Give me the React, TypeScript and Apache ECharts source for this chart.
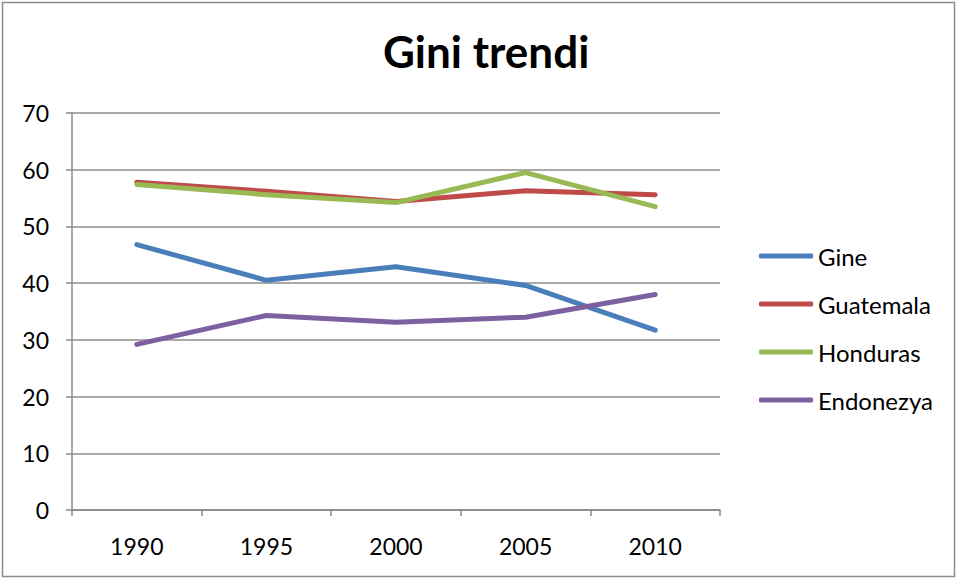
import React, { useEffect, useRef } from "react";
import * as echarts from "echarts";

const years = ["1990", "1995", "2000", "2005", "2010"];
const gine = [46.8, 40.5, 42.9, 39.6, 31.7];
const guatemala = [57.8, 56.2, 54.4, 56.3, 55.6];
const honduras = [57.4, 55.6, 54.2, 59.5, 53.5];
const endonezya = [29.2, 34.3, 33.1, 34.0, 38.0];
const seriesNames = ["Gine", "Guatemala", "Honduras", "Endonezya"];
const seriesColors = ["#4a7ebb", "#be4b48", "#98b954", "#7d60a0"];

const FONT = "Lato, 'Open Sans', sans-serif";

export default function App() {
  const ref = useRef<HTMLDivElement>(null);
  useEffect(() => {
    document.body.style.margin = "0";
    const chart = echarts.init(ref.current!, null, { renderer: "svg" });
    const data = [gine, guatemala, honduras, endonezya];
    chart.setOption({
      animation: false,
      backgroundColor: "#ffffff",
      textStyle: { fontFamily: FONT },
      title: {
        text: "Gini trendi",
        left: 378,
        top: 24,
        textStyle: { fontFamily: FONT, fontSize: 44, fontWeight: "bold", color: "#000" },
      },
      graphic: [
        {
          type: "rect",
          shape: { x: 2.5, y: 2.5, width: 952, height: 574 },
          style: { fill: "none", stroke: "#8c8c8c", lineWidth: 1.5 },
          silent: true,
        },
      ],
      legend: {
        orient: "vertical",
        left: 754,
        top: 237,
        itemWidth: 54,
        itemHeight: 5,
        itemGap: 20,
        icon: "roundRect",
        data: seriesNames,
        textStyle: { fontFamily: FONT, fontSize: 24, color: "#000", lineHeight: 28 },
      },
      grid: { left: 72, right: 239, top: 113, bottom: 70 },
      xAxis: {
        type: "category",
        data: years,
        boundaryGap: true,
        axisLine: { lineStyle: { color: "#888", width: 1.5 } },
        axisTick: { show: true, length: 6, inside: false, lineStyle: { color: "#888", width: 1.5 } },
        axisLabel: { fontFamily: FONT, fontSize: 23, color: "#000", margin: 24 },
      },
      yAxis: {
        type: "value",
        min: 0,
        max: 70,
        interval: 10,
        axisLine: { show: true, lineStyle: { color: "#888", width: 1.5 } },
        axisTick: { show: true, length: 6, inside: false, lineStyle: { color: "#888", width: 1.5 } },
        axisLabel: { fontFamily: FONT, fontSize: 23, color: "#000", margin: 23 },
        splitLine: { show: true, lineStyle: { color: "#8c8c8c", width: 1.5 } },
      },
      series: seriesNames.map((name, i) => ({
        name,
        type: "line",
        data: data[i],
        symbol: "none",
        color: seriesColors[i],
        lineStyle: { width: 5, color: seriesColors[i], cap: "round", join: "round" },
      })),
    });
    return () => chart.dispose();
  }, []);
  return <div ref={ref} style={{ width: 959, height: 580 }} />;
}
